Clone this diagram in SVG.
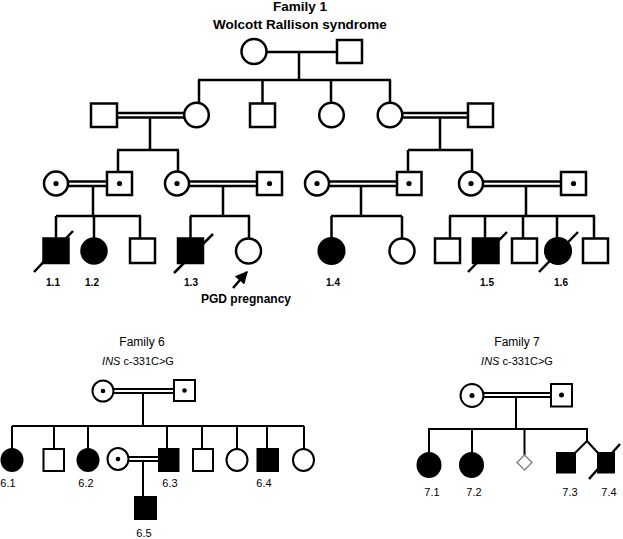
<svg xmlns="http://www.w3.org/2000/svg" width="623" height="539" viewBox="0 0 623 539">
<style>
.s{fill:#fff;stroke:#000;stroke-width:2.5}
.f{fill:#000;stroke:#000;stroke-width:2.5}
.s2{fill:#fff;stroke:#000;stroke-width:2}
.f2{fill:#000;stroke:#000;stroke-width:2}
.d{fill:#000;stroke:none}
.c line,.c polyline,.c path{stroke:#000;stroke-width:2.5;fill:none}
.c2 line,.c2 polyline{stroke:#000;stroke-width:2;fill:none}
.t1{font-family:"Liberation Sans",Arial,sans-serif;font-weight:bold;font-size:13.5px;text-anchor:middle}
.lb{font-family:"Liberation Sans",Arial,sans-serif;font-weight:bold;font-size:10px;text-anchor:middle}
.t{font-family:"Liberation Sans",Arial,sans-serif;font-size:12px;text-anchor:middle}
.l{font-family:"Liberation Sans",Arial,sans-serif;font-size:11px;text-anchor:middle}
.sl{stroke:#000;stroke-width:2.5}
</style>
<defs>
<marker id="ah" viewBox="0 0 10 10" refX="9" refY="5" markerWidth="5" markerHeight="5" orient="auto">
<path d="M0,0 L10,5 L0,10 z" fill="#000"/>
</marker>
</defs>

<text class="t1" x="300" y="11">Family 1</text>
<text class="t1" x="300" y="29">Wolcott Rallison syndrome</text>

<g id="connectors">
<g class="c">
<line x1="267" y1="52" x2="337" y2="52"/>
<line x1="299" y1="52" x2="299" y2="80"/>
<line x1="198" y1="80" x2="391" y2="80"/>
<line x1="199" y1="80" x2="199" y2="103"/>
<line x1="262.5" y1="80" x2="262.5" y2="103"/>
<line x1="331" y1="80" x2="331" y2="103"/>
<line x1="390" y1="80" x2="390" y2="103"/>
<line x1="117" y1="113" x2="185" y2="113"/>
<line x1="117" y1="117.5" x2="185" y2="117.5"/>
<line x1="150" y1="117.5" x2="150" y2="150"/>
<line x1="117" y1="150" x2="179" y2="150"/>
<line x1="118" y1="150" x2="118" y2="172"/>
<line x1="178" y1="150" x2="178" y2="171.5"/>
<line x1="402" y1="113" x2="468" y2="113"/>
<line x1="402" y1="117.5" x2="468" y2="117.5"/>
<line x1="440" y1="117.5" x2="440" y2="150"/>
<line x1="408" y1="150" x2="473" y2="150"/>
<line x1="408" y1="150" x2="408" y2="172"/>
<line x1="472" y1="150" x2="472" y2="171.5"/>
<line x1="68" y1="181.5" x2="107" y2="181.5"/>
<line x1="68" y1="186" x2="107" y2="186"/>
<line x1="93" y1="186" x2="93" y2="216"/>
<line x1="56" y1="216" x2="141" y2="216"/>
<line x1="56" y1="216" x2="56" y2="238"/>
<line x1="94" y1="216" x2="94" y2="238"/>
<line x1="140" y1="216" x2="140" y2="238"/>
<line x1="189" y1="181.5" x2="257" y2="181.5"/>
<line x1="189" y1="186" x2="257" y2="186"/>
<line x1="223" y1="186" x2="223" y2="216"/>
<line x1="190" y1="216" x2="250" y2="216"/>
<line x1="190.5" y1="216" x2="190.5" y2="238"/>
<line x1="249" y1="216" x2="249" y2="238.5"/>
<line x1="329" y1="181.5" x2="397" y2="181.5"/>
<line x1="329" y1="186" x2="397" y2="186"/>
<line x1="361" y1="186" x2="361" y2="216"/>
<line x1="331" y1="216" x2="402" y2="216"/>
<line x1="331.5" y1="216" x2="331.5" y2="238"/>
<line x1="402" y1="216" x2="402" y2="238.5"/>
<line x1="483" y1="181.5" x2="561" y2="181.5"/>
<line x1="483" y1="186" x2="561" y2="186"/>
<line x1="526" y1="186" x2="526" y2="216"/>
<line x1="449" y1="216" x2="595" y2="216"/>
<line x1="450" y1="216" x2="450" y2="238"/>
<line x1="485" y1="216" x2="485" y2="238"/>
<line x1="523" y1="216" x2="523" y2="238"/>
<line x1="557" y1="216" x2="557" y2="238"/>
<line x1="594" y1="216" x2="594" y2="238"/>
<line x1="233" y1="288" x2="247" y2="272" stroke-width="2" marker-end="url(#ah)"/>
</g>
<g class="c2">
<line x1="113.5" y1="389" x2="174" y2="389"/>
<line x1="113.5" y1="393" x2="174" y2="393"/>
<line x1="143" y1="393" x2="143" y2="426"/>
<line x1="12" y1="426" x2="304" y2="426"/>
<line x1="12" y1="426" x2="12" y2="449"/>
<line x1="54" y1="426" x2="54" y2="449"/>
<line x1="88" y1="426" x2="88" y2="449"/>
<line x1="167" y1="426" x2="167" y2="449"/>
<line x1="202" y1="426" x2="202" y2="449"/>
<line x1="237" y1="426" x2="237" y2="449"/>
<line x1="267" y1="426" x2="267" y2="449"/>
<line x1="304" y1="426" x2="304" y2="449"/>
<line x1="128.5" y1="457" x2="159" y2="457"/>
<line x1="128.5" y1="461" x2="159" y2="461"/>
<line x1="143" y1="461" x2="143" y2="497"/>
<line x1="483.5" y1="393" x2="551" y2="393"/>
<line x1="483.5" y1="397" x2="551" y2="397"/>
<line x1="516" y1="397" x2="516" y2="429"/>
<line x1="428" y1="429" x2="588" y2="429"/>
<line x1="429" y1="429" x2="429" y2="453"/>
<line x1="472" y1="429" x2="472" y2="453"/>
<line x1="524.5" y1="429" x2="524.5" y2="455"/>
<polyline points="587,429 587,441"/>
<polyline points="575,453 587,441 598,453"/>
</g>
</g>

<g id="f1-gf"><circle class="s" cx="254" cy="51.5" r="12.5"/></g>
<g id="f1-gm"><rect class="s" x="337" y="40" width="25" height="23"/></g>

<g id="f1-g2-husband1"><rect class="s" x="91" y="103.5" width="26" height="23.5"/></g>
<g id="f1-g2-daughter1"><circle class="s" cx="196.5" cy="115" r="12.3"/></g>
<g id="f1-g2-son"><rect class="s" x="250" y="103.5" width="25" height="23.5"/></g>
<g id="f1-g2-daughter2"><circle class="s" cx="331.5" cy="115" r="12.3"/></g>
<g id="f1-g2-daughter3"><circle class="s" cx="390" cy="115" r="12.3"/></g>
<g id="f1-g2-husband3"><rect class="s" x="468" y="103.5" width="25" height="23.5"/></g>

<g id="f1-g3-w1"><circle class="s" cx="56" cy="183.5" r="12"/><circle class="d" cx="56" cy="183.5" r="2.6"/></g>
<g id="f1-g3-h1"><rect class="s" x="107" y="172" width="25" height="23"/><circle class="d" cx="119.5" cy="183.5" r="2.6"/></g>
<g id="f1-g3-w2"><circle class="s" cx="177" cy="183.5" r="12"/><circle class="d" cx="177" cy="183.5" r="2.6"/></g>
<g id="f1-g3-h2"><rect class="s" x="257" y="172" width="25" height="23"/><circle class="d" cx="269.5" cy="183.5" r="2.6"/></g>
<g id="f1-g3-w3"><circle class="s" cx="317" cy="183.5" r="12"/><circle class="d" cx="317" cy="183.5" r="2.6"/></g>
<g id="f1-g3-h3"><rect class="s" x="397" y="172" width="24.5" height="23"/><circle class="d" cx="409" cy="183.5" r="2.6"/></g>
<g id="f1-g3-w4"><circle class="s" cx="471" cy="183.5" r="12"/><circle class="d" cx="471" cy="183.5" r="2.6"/></g>
<g id="f1-g3-h4"><rect class="s" x="561" y="172" width="25" height="23"/><circle class="d" cx="573.5" cy="183.5" r="2.6"/></g>

<g id="p1-1"><rect class="f" x="43.5" y="238.5" width="25" height="24.5"/><line class="sl" x1="34" y1="272" x2="73" y2="231"/><text class="lb" x="53" y="286">1.1</text></g>
<g id="p1-2"><circle class="f" cx="94" cy="251" r="12.5"/><text class="lb" x="92" y="286">1.2</text></g>
<g id="f1-g4-s1"><rect class="s" x="130" y="238.5" width="25" height="24.5"/></g>
<g id="p1-3"><rect class="f" x="178" y="238.5" width="25" height="24.5"/><line class="sl" x1="174" y1="273" x2="213" y2="234"/><text class="lb" x="191" y="286">1.3</text></g>
<g id="pgd"><circle class="s" cx="248.5" cy="251" r="12.5"/><text class="t" x="246" y="303" font-weight="bold" font-size="11.5">PGD pregnancy</text></g>
<g id="p1-4"><circle class="f" cx="331.5" cy="251" r="12.8"/><text class="lb" x="333" y="286">1.4</text></g>
<g id="f1-g4-d2"><circle class="s" cx="402" cy="251" r="12.5"/></g>
<g id="f1-g4-s2"><rect class="s" x="435" y="238.5" width="25" height="24.5"/></g>
<g id="p1-5"><rect class="f" x="473" y="238.5" width="25.5" height="24.5"/><line class="sl" x1="468" y1="272" x2="507" y2="232"/><text class="lb" x="487" y="286">1.5</text></g>
<g id="f1-g4-s3"><rect class="s" x="512" y="238.5" width="25" height="24.5"/></g>
<g id="p1-6"><circle class="f" cx="558" cy="251" r="12.8"/><line class="sl" x1="539" y1="272" x2="578" y2="232"/><text class="lb" x="561" y="286">1.6</text></g>
<g id="f1-g4-s4"><rect class="s" x="583" y="238.5" width="25" height="24.5"/></g>

<text class="t" x="142" y="346">Family 6</text>
<text class="l" x="138" y="365"><tspan font-style="italic">INS</tspan> c-331C&gt;G</text>
<g id="f6-mother"><circle class="s2" cx="103" cy="391" r="10.5"/><circle class="d" cx="103" cy="391" r="2.3"/></g>
<g id="f6-father"><rect class="s2" x="174" y="380" width="21" height="21"/><circle class="d" cx="184.5" cy="390.5" r="2.3"/></g>
<g id="p6-1"><ellipse class="f2" cx="12" cy="460" rx="10.5" ry="11"/><text class="l" x="8" y="487">6.1</text></g>
<g id="f6-s1"><rect class="s2" x="43.5" y="449" width="20.5" height="22"/></g>
<g id="p6-2"><ellipse class="f2" cx="88" cy="460" rx="10.5" ry="11"/><text class="l" x="86" y="487">6.2</text></g>
<g id="f6-wife"><ellipse class="s2" cx="118" cy="459" rx="10.5" ry="11"/><circle class="d" cx="118" cy="459" r="2.3"/></g>
<g id="p6-3"><rect class="f2" x="159" y="449" width="19.5" height="22"/><text class="l" x="170" y="487">6.3</text></g>
<g id="f6-s2"><rect class="s2" x="193" y="449" width="20" height="22"/></g>
<g id="f6-d1"><ellipse class="s2" cx="237" cy="460" rx="10.5" ry="11"/></g>
<g id="p6-4"><rect class="f2" x="257.5" y="449" width="20.5" height="22"/><text class="l" x="264" y="487">6.4</text></g>
<g id="f6-d2"><ellipse class="s2" cx="303.5" cy="460" rx="10.5" ry="11"/></g>
<g id="p6-5"><rect class="f2" x="135" y="497" width="21" height="22"/><text class="l" x="144" y="537">6.5</text></g>

<text class="t" x="517" y="346">Family 7</text>
<text class="l" x="517" y="365"><tspan font-style="italic">INS</tspan> c-331C&gt;G</text>
<g id="f7-mother"><circle class="s2" cx="472" cy="395.5" r="11.5"/><circle class="d" cx="472" cy="395.5" r="2.5"/></g>
<g id="f7-father"><rect class="s2" x="551" y="384" width="21" height="22.5"/><circle class="d" cx="561.5" cy="395" r="2.5"/></g>
<g id="p7-1"><ellipse class="f2" cx="429" cy="465" rx="11.5" ry="12"/><text class="l" x="432" y="496">7.1</text></g>
<g id="p7-2"><ellipse class="f2" cx="471.5" cy="465" rx="11.5" ry="12"/><text class="l" x="474" y="496">7.2</text></g>
<g id="f7-unk"><polygon points="524.5,455 532,462.5 524.5,470 517,462.5" fill="#fff" stroke="#888" stroke-width="1.5"/></g>
<g id="p7-3"><rect class="f2" x="557" y="453" width="18" height="19.5"/><text class="l" x="570" y="496">7.3</text></g>
<g id="p7-4"><rect class="f2" x="598" y="453" width="16" height="19.5"/><line class="sl" stroke-width="2" x1="589" y1="479" x2="620" y2="444"/><text class="l" x="609" y="496">7.4</text></g>
</svg>
